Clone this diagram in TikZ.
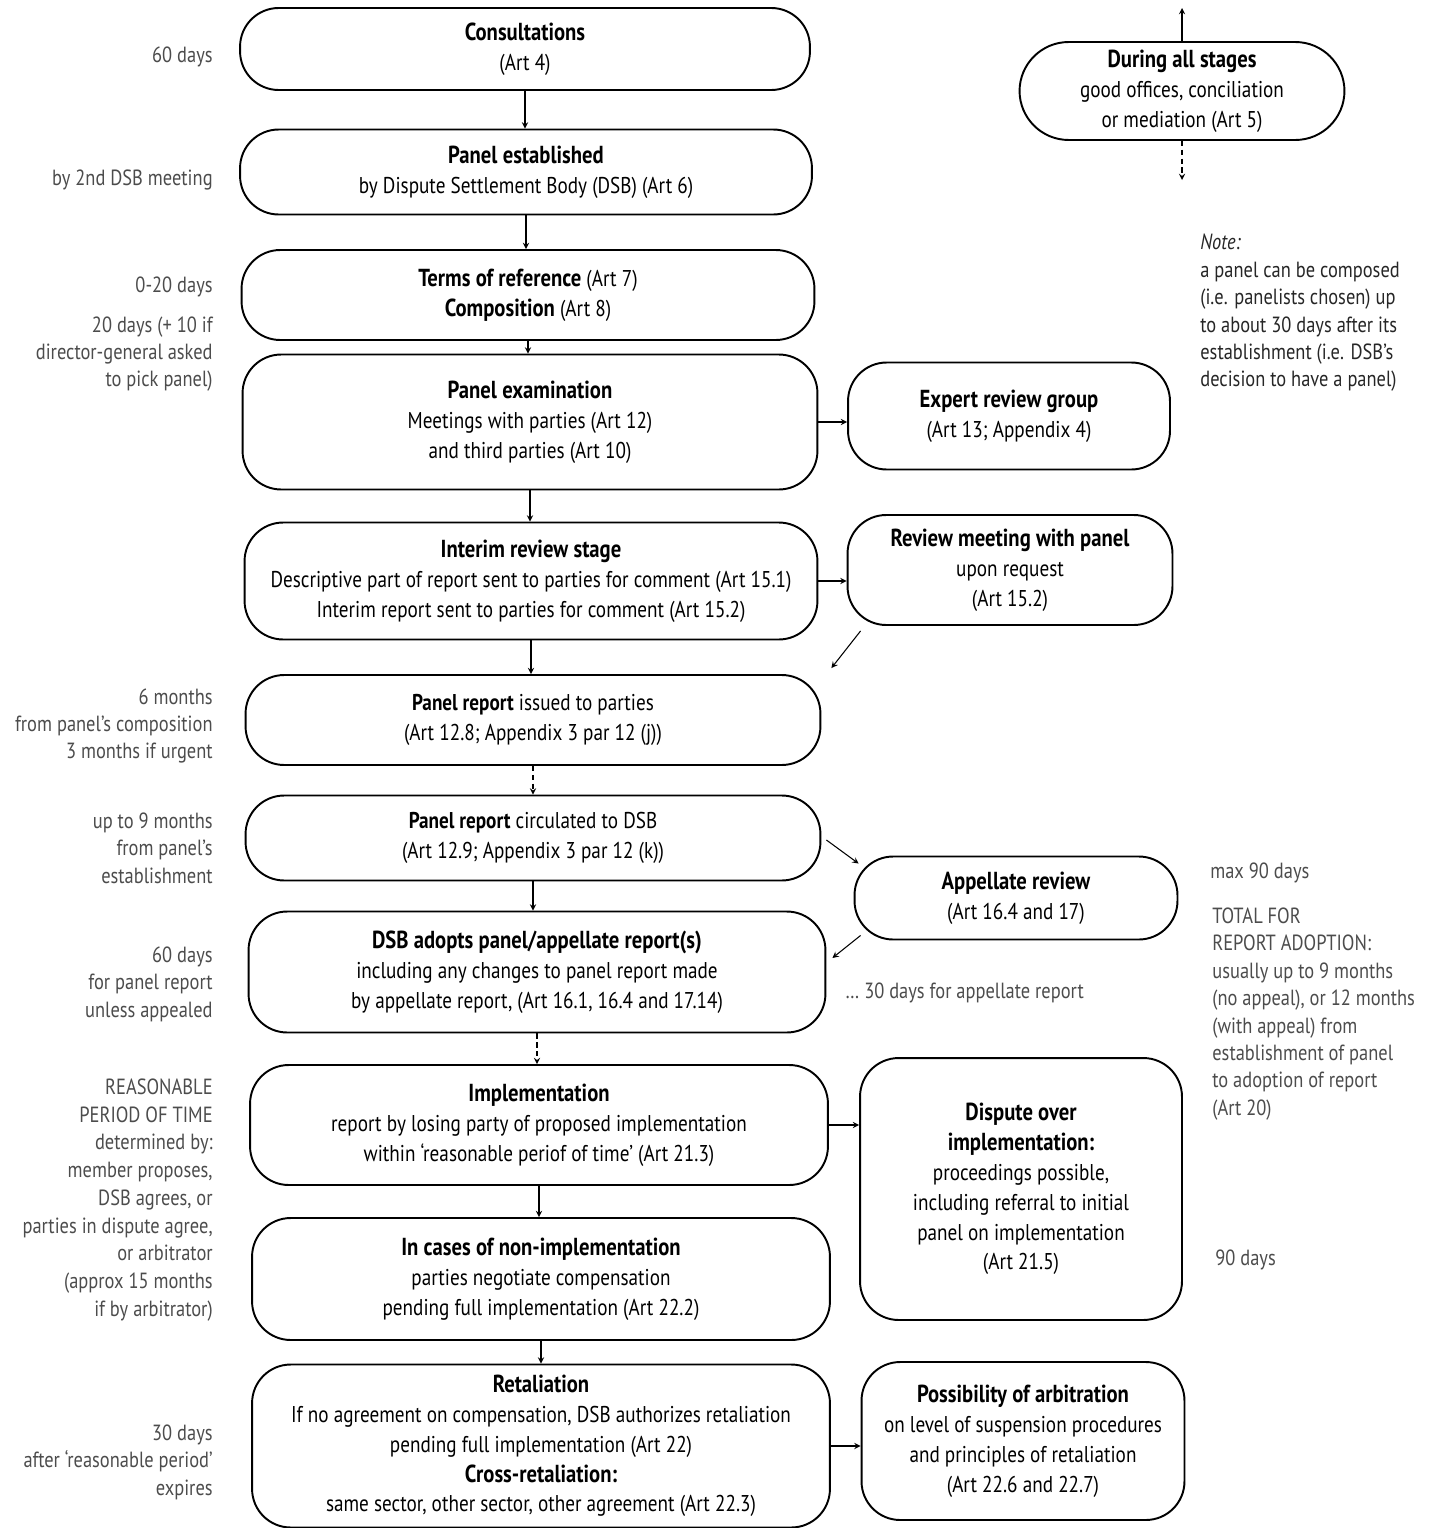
\documentclass[tikz,border=0pt]{standalone}
\usepackage{fontspec}
\setsansfont{PT Sans}[FakeStretch=0.84]
\usetikzlibrary{shapes,arrows,calc,positioning}

\newcommand{\hd}[1]{{\fontsize{14}{17}\selectfont\bfseries #1}}

\tikzset{
  stage/.style={draw, line width=1.1pt, rounded corners=22pt, align=center, inner sep=2pt,
    font=\sffamily\fontsize{13}{17}\selectfont},
  remark/.style={inner sep=0pt, text=black!70, font=\sffamily\fontsize{12.5}{15.6}\selectfont},
  flow/.style={->, >=stealth, line width=0.6pt},
}

\begin{document}
\begin{tikzpicture}[x=0.02cm, y=-0.02cm]
  \useasboundingbox (0,0) rectangle (1428,1528);

  % main column
  \node[stage, minimum width=11.4cm, minimum height=1.64cm] (consult) at (525,49)
    {\hd{Consultations}\\(Art 4)};
  \node[stage, minimum width=11.44cm, minimum height=1.7cm] (panel) at (526,172)
    {\hd{Panel established}\\by Dispute Settlement Body (DSB) (Art 6)};
  \node[stage, minimum width=11.46cm, minimum height=1.8cm] (terms) at (528,295)
    {\hd{Terms of reference} (Art 7)\\\hd{Composition} (Art 8)};
  \node[stage, minimum width=11.5cm, minimum height=2.7cm] (exam) at (530,422)
    {\hd{Panel examination}\\Meetings with parties (Art 12)\\and third parties (Art 10)};
  \node[stage, minimum width=11.46cm, minimum height=2.34cm] (interim) at (531,581)
    {\hd{Interim review stage}\\Descriptive part of report sent to parties for comment (Art 15.1)\\Interim report sent to parties for comment (Art 15.2)};
  \node[stage, minimum width=11.5cm, minimum height=1.8cm] (issued) at (533,720)
    {\textbf{Panel report} issued to parties\\(Art 12.8; Appendix 3 par 12 (j))};
  \node[stage, minimum width=11.5cm, minimum height=1.7cm] (circ) at (533,838)
    {\textbf{Panel report} circulated to DSB\\(Art 12.9; Appendix 3 par 12 (k))};
  \node[stage, minimum width=11.54cm, minimum height=2.42cm] (adopt) at (537,972)
    {\hd{DSB adopts panel/appellate report(s)}\\including any changes to panel report made\\by appellate report, (Art 16.1, 16.4 and 17.14)};
  \node[stage, minimum width=11.56cm, minimum height=2.4cm] (impl) at (539,1125)
    {\hd{Implementation}\\report by losing party of proposed implementation\\within ‘reasonable periof of time’ (Art 21.3)};
  \node[stage, minimum width=11.56cm, minimum height=2.44cm] (nonimpl) at (541,1279)
    {\hd{In cases of non-implementation}\\parties negotiate compensation\\pending full implementation (Art 22.2)};
  \node[stage, minimum width=11.56cm, minimum height=3.26cm] (retal) at (541,1446)
    {\hd{Retaliation}\\If no agreement on compensation, DSB authorizes retaliation\\pending full implementation (Art 22)\\\hd{Cross-retaliation:}\\same sector, other sector, other agreement (Art 22.3)};

  % side boxes
  \node[stage, rounded corners=28pt, minimum width=6.5cm, minimum height=1.96cm] (stages) at (1182,91)
    {\hd{During all stages}\\good offices, conciliation\\or mediation (Art 5)};
  \node[stage, minimum width=6.44cm, minimum height=2.14cm] (expert) at (1009,416)
    {\hd{Expert review group}\\(Art 13; Appendix 4)};
  \node[stage, minimum width=6.5cm, minimum height=2.2cm] (meeting) at (1010,570)
    {\hd{Review meeting with panel}\\upon request\\(Art 15.2)};
  \node[stage, minimum width=6.46cm, minimum height=1.66cm] (appeal) at (1016,898)
    {\hd{Appellate review}\\(Art 16.4 and 17)};
  \node[stage, minimum width=6.44cm, minimum height=5.24cm] (dispute) at (1021,1189)
    {\hd{Dispute over}\\\hd{implementation:}\\proceedings possible,\\including referral to initial\\panel on implementation\\(Art 21.5)};
  \node[stage, minimum width=6.46cm, minimum height=3.16cm] (arbit) at (1023,1441)
    {\hd{Possibility of arbitration}\\on level of suspension procedures\\and principles of retaliation\\(Art 22.6 and 22.7)};

  \coordinate (up) at (1182,8);
  \coordinate (down) at (1182,180);

  % connectors
  \draw[flow] (consult.south) -- (consult.south |- panel.north);
  \draw[flow] (panel.south) -- (panel.south |- terms.north);
  \draw[flow] (terms.south) -- (terms.south |- exam.north);
  \draw[flow] (exam.south) -- (exam.south |- interim.north);
  \draw[flow] (interim.south) -- (interim.south |- issued.north);
  \draw[flow, densely dashed] (issued.south) -- (issued.south |- circ.north);
  \draw[flow] (circ.south) -- (circ.south |- adopt.north);
  \draw[flow, densely dashed] (adopt.south) -- (adopt.south |- impl.north);
  \draw[flow] (impl.south) -- (impl.south |- nonimpl.north);
  \draw[flow] (nonimpl.south) -- (nonimpl.south |- retal.north);
  \draw[flow] (exam.east) -- (exam.east -| expert.west);
  \draw[flow] (interim.east) -- (interim.east -| meeting.west);
  \draw[flow] ([shift={(14,5)}]meeting.south west) -- ([shift={(10,-6)}]issued.north east);
  \draw[flow] ([shift={(5,2)}]circ.east) -- ([shift={(5,8)}]appeal.north west);
  \draw[flow] ([shift={(7,-5)}]appeal.south west) -- ([shift={(6,-14)}]adopt.east);
  \draw[flow] (impl.east) -- (impl.east -| dispute.west);
  \draw[flow] (retal.east) -- (retal.east -| arbit.west);
  \draw[flow] (stages.north) -- (up);
  \draw[flow, densely dashed] (stages.south) -- (down);

  % time limits, left
  \node[remark, anchor=east] (t1) at (213,57) {60 days};
  \node[remark, anchor=east] (t2) at (213,180) {by 2nd DSB meeting};
  \node[remark, anchor=east] (t3) at (213,287) {0-20 days};
  \node[remark, anchor=east, align=right] (t4) at (213,354) {20 days (+ 10 if\\director-general asked\\to pick panel)};
  \node[remark, anchor=east, align=right] (t5) at (213,726) {6 months\\from panel's composition\\3 months if urgent};
  \node[remark, anchor=east, align=right] (t6) at (213,848) {up to 9 months\\from panel's\\establishment};
  \node[remark, anchor=east, align=right] (t7) at (213,984) {60 days\\for panel report\\unless appealed};
  \node[remark, anchor=east, align=right, font=\sffamily\fontsize{12.5}{15.8}\selectfont] (t8) at (213,1200)
    {REASONABLE\\PERIOD OF TIME\\determined by:\\member proposes,\\DSB agrees, or\\parties in dispute agree,\\or arbitrator\\(approx 15 months\\if by arbitrator)};
  \node[remark, anchor=east, align=right] (t9) at (213,1462) {30 days\\after ‘reasonable period’\\expires};

  % notes, right
  \node[remark, anchor=west, align=left, text=black!85] (note) at (1200,313)
    {\textit{Note:}\\a panel can be composed\\(i.e. panelists chosen) up\\to about 30 days after its\\establishment (i.e. DSB's\\decision to have a panel)};
  \node[remark, anchor=west] (t10) at (1210,873) {max 90 days};
  \node[remark, anchor=west, align=left] (total) at (1212,1014)
    {TOTAL FOR\\REPORT ADOPTION:\\usually up to 9 months\\(no appeal), or 12 months\\(with appeal) from\\establishment of panel\\to adoption of report\\(Art 20)};
  \node[remark, anchor=west] (t11) at (1215,1260) {90 days};
  \node[remark, anchor=west] (t12) at (845,993) {\dots\ 30 days for appellate report};
\end{tikzpicture}
\end{document}
